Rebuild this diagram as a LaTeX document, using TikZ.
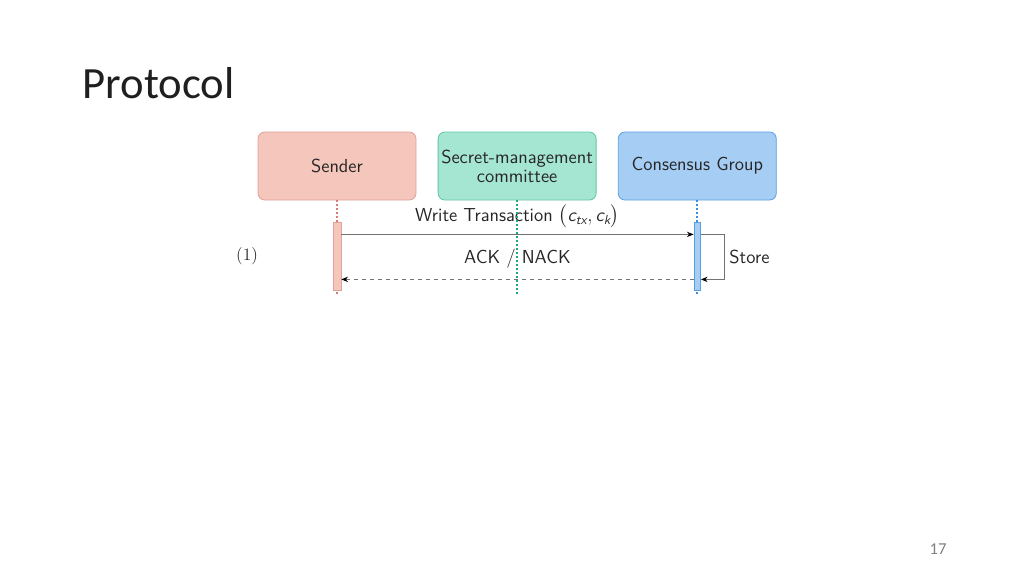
\documentclass[tikz,border=0pt]{standalone}
\usepackage{amsmath}
\usepackage{fontspec}
\newfontfamily\slidefont{Carlito}
\usetikzlibrary{arrows.meta,positioning,calc}

\definecolor{senderfill}{HTML}{F4C6BC}
\definecolor{senderline}{HTML}{E0A198}
\definecolor{senderdot}{HTML}{D97A74}
\definecolor{committeefill}{HTML}{A5E6D3}
\definecolor{committeeline}{HTML}{62C7A6}
\definecolor{committeedot}{HTML}{22A67C}
\definecolor{consensusfill}{HTML}{A6CDF4}
\definecolor{consensusline}{HTML}{5B9EE0}
\definecolor{consensusdot}{HTML}{3A8EDC}

\begin{document}
\begin{tikzpicture}[x=0.75pt,y=-0.75pt]

  \tikzstyle{every node}=[font=\sffamily\fontsize{14.1}{14.3}\selectfont, text=black!85]

  \tikzset{actor/.style={draw, rounded corners=5pt, line width=0.6pt, align=center,
      minimum width=118.5pt, minimum height=51pt, inner sep=1pt}}
  \tikzset{lifeline/.style={line width=1.3pt, dash pattern=on 1.4pt off 1.6pt}}
  \tikzset{bar/.style={draw, line width=0.5pt, minimum height=51pt, inner sep=0pt, anchor=north}}
  \tikzset{msg/.style={draw=black!55, line width=0.6pt, -{Stealth[black,length=5pt,width=4pt]}}}

  % Slide
  \useasboundingbox (0,0) rectangle (1024,576);
  \node[anchor=base west, font=\slidefont\fontsize{33.5}{40}\selectfont, text=black!88] (title) at (78,98) {Protocol};
  \node[anchor=base, font=\slidefont\fontsize{12.5}{14}\selectfont, text=black!50] (page) at (938,554) {17};

  % Entities
  \node[actor, fill=senderfill, draw=senderline] (Sender) at (337,166) {Sender};
  \node[actor, fill=committeefill, draw=committeeline, right=16pt of Sender] (Committee) {Secret-management\\committee};
  \node[actor, fill=consensusfill, draw=consensusline, right=16pt of Committee] (Consensus) {Consensus Group};

  % Timelines
  \coordinate (Sender end) at ($(Sender.south) + (0,94)$);
  \coordinate (Committee end) at ($(Committee.south) + (0,94)$);
  \coordinate (Consensus end) at ($(Consensus.south) + (0,94)$);
  \draw[lifeline, senderdot] (Sender.south) -- (Sender end);
  \draw[lifeline, consensusdot] (Consensus.south) -- (Consensus end);

  % Activations
  \node[bar, fill=senderfill, draw=senderline, minimum width=6pt] (Sender bar) at ($(Sender.south) + (0,22)$) {};
  \node[bar, fill=consensusfill, draw=consensusline, minimum width=5pt] (Consensus bar) at ($(Consensus.south) + (0,22)$) {};

  % Write transaction
  \coordinate (write) at ($(Sender bar.north east) + (0,12)$);
  \draw[msg] (write) -- (write -| Consensus bar.west)
    node[midway, above=1pt] (write label) {Write Transaction $\bigl(\textit{c}_{\textit{tx}}, \textit{c}_{\textit{k}}\bigr)$};

  % Store
  \coordinate (store) at ($(Consensus bar.north east) + (0,12)$);
  \coordinate (stored) at ($(Consensus bar.north east) + (0,57)$);
  \draw[msg] (store) -- ++(23,0) |- (stored)
    node[pos=0.25, right=0.5pt] (store label) {Store};

  % ACK / NACK
  \coordinate (ack) at ($(Consensus bar.north west) + (0,57)$);
  \draw[msg, dashed] (ack) -- (ack -| Sender bar.east)
    node[midway, above=5pt] (ack label) {ACK $/$ NACK};

  \draw[lifeline, committeedot] (Committee.south) -- (Committee end);

  % Step
  \node[font=\rmfamily\fontsize{13}{15}\selectfont] (step) at (247,256) {(1)};

\end{tikzpicture}
\end{document}
